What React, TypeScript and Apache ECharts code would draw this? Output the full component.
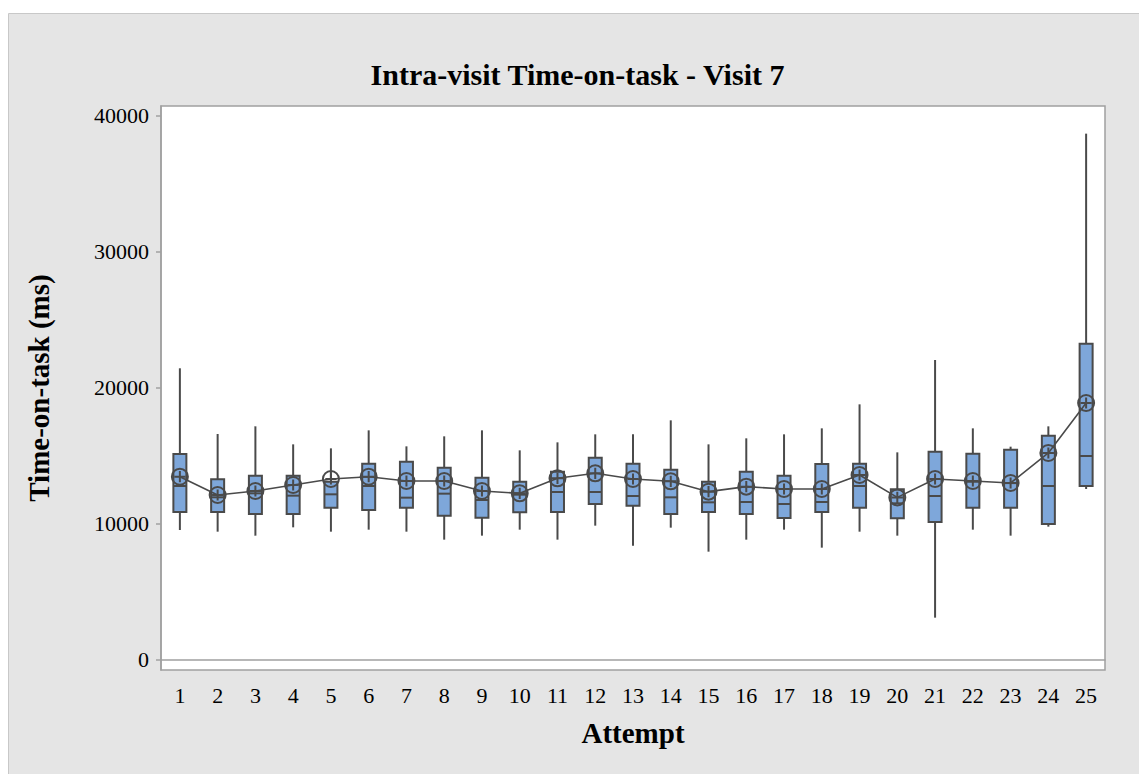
import React, { useEffect, useRef } from 'react';
import * as echarts from 'echarts';

const attempts = ['1', '2', '3', '4', '5', '6', '7', '8', '9', '10', '11', '12', '13', '14', '15', '16', '17', '18', '19', '20', '21', '22', '23', '24', '25'];
const whiskerLow = [9553, 9430, 9137, 9749, 9430, 9577, 9430, 8843, 9137, 9577, 8843, 9872, 8402, 9724, 7961, 8843, 9577, 8255, 9430, 9137, 3111, 9577, 9137, 9798, 12566];
const q1 = [10876, 10876, 10729, 10729, 11194, 11023, 11194, 10606, 10459, 10850, 10876, 11464, 11341, 10729, 10876, 10729, 10435, 10876, 11194, 10410, 10141, 11194, 11194, 9994, 12787];
const median = [12787, 11956, 12248, 12076, 12174, 12787, 11929, 12223, 11758, 12150, 12346, 12346, 12052, 11954, 11586, 11611, 11464, 11611, 12787, 11512, 12052, 13100, 13000, 12787, 14991];
const q3 = [15138, 13277, 13546, 13546, 13105, 14429, 14576, 14135, 13399, 13105, 13840, 14870, 14429, 13987, 13105, 13840, 13546, 14403, 14429, 12542, 15309, 15162, 15456, 16485, 23245];
const whiskerHigh = [21436, 16608, 17170, 15847, 15553, 16876, 15700, 16436, 16876, 15406, 15994, 16583, 16583, 17611, 15847, 16289, 16583, 17023, 18787, 15259, 22046, 17023, 15676, 17170, 38678];
const means = [13470, 12125, 12419, 12860, 13301, 13470, 13154, 13154, 12419, 12248, 13350, 13718, 13301, 13130, 12370, 12738, 12566, 12566, 13595, 11950, 13301, 13154, 13007, 15212, 18886];
const yTicks = [0, 10000, 20000, 30000, 40000];

const SERIF = "'Liberation Serif', 'Times New Roman', serif";
const DARK = '#4a4a4a';
const AXIS = '#a0a0a0';

export default function App() {
  const ref = useRef<HTMLDivElement>(null);
  useEffect(() => {
    const chart = echarts.init(ref.current!, null, { renderer: 'svg' });
    const boxData = attempts.map((_, i) => [i, whiskerLow[i], q1[i], median[i], q3[i], whiskerHigh[i]]);
    chart.setOption({
      animation: false,
      backgroundColor: 'transparent',
      graphic: [
        {
          type: 'rect',
          z: -100,
          silent: true,
          shape: { x: 0.5, y: 5.5, width: 1200, height: 800 },
          style: { fill: '#e5e5e5', stroke: '#c8c8c8', lineWidth: 1 },
        },
      ],
      title: {
        text: 'Intra-visit Time-on-task - Visit 7',
        left: 'center',
        top: 46,
        textStyle: { fontFamily: SERIF, fontWeight: 'bold', fontSize: 30, color: '#000' },
      },
      grid: {
        left: 153,
        top: 98,
        right: 42,
        bottom: 104,
        show: true,
        backgroundColor: '#ffffff',
        borderColor: AXIS,
        borderWidth: 1.5,
      },
      xAxis: {
        type: 'category',
        data: attempts,
        boundaryGap: true,
        axisLine: { lineStyle: { color: AXIS, width: 1.5 } },
        axisTick: { alignWithLabel: true, length: 5, lineStyle: { color: AXIS, width: 1.5 } },
        axisLabel: { color: '#000', fontSize: 22, fontFamily: SERIF, margin: 14, interval: 0 },
        splitLine: { show: false },
        name: 'Attempt',
        nameLocation: 'middle',
        nameGap: 48,
        nameTextStyle: { fontFamily: SERIF, fontWeight: 'bold', fontSize: 29, color: '#000' },
      },
      yAxis: {
        type: 'value',
        min: -735,
        max: 40710,
        splitLine: { show: false },
        axisLine: { show: true, lineStyle: { color: AXIS, width: 1.5 } },
        axisTick: { show: true, length: 5, customValues: yTicks, lineStyle: { color: AXIS, width: 1.5 } },
        axisLabel: {
          customValues: yTicks,
          formatter: (v: number) => String(v),
          color: '#000',
          fontSize: 22,
          fontFamily: SERIF,
          margin: 12,
        },
        name: 'Time-on-task (ms)',
        nameLocation: 'middle',
        nameGap: 108,
        nameTextStyle: { fontFamily: SERIF, fontWeight: 'bold', fontSize: 29, color: '#000' },
      },
      series: [
        {
          type: 'custom',
          data: boxData,
          encode: { x: 0, y: [1, 2, 3, 4, 5] },
          z: 2,
          renderItem: (params: any, api: any) => {
            const x = api.value(0);
            const lo = api.coord([x, api.value(1)]);
            const b1 = api.coord([x, api.value(2)]);
            const md = api.coord([x, api.value(3)]);
            const b3 = api.coord([x, api.value(4)]);
            const hi = api.coord([x, api.value(5)]);
            const w = 13;
            const cx = lo[0];
            return {
              type: 'group',
              children: [
                { type: 'line', shape: { x1: cx, y1: hi[1], x2: cx, y2: b3[1] }, style: { stroke: DARK, lineWidth: 2 } },
                { type: 'line', shape: { x1: cx, y1: b1[1], x2: cx, y2: lo[1] }, style: { stroke: DARK, lineWidth: 2 } },
                {
                  type: 'rect',
                  shape: { x: cx - w / 2, y: b3[1], width: w, height: b1[1] - b3[1] },
                  style: { fill: '#7ea7da', stroke: DARK, lineWidth: 2 },
                },
                { type: 'line', shape: { x1: cx - w / 2, y1: md[1], x2: cx + w / 2, y2: md[1] }, style: { stroke: DARK, lineWidth: 2 } },
              ],
            };
          },
        },
        {
          type: 'line',
          data: means,
          z: 5,
          symbol: 'path://M0,-10A10,10,0,1,1,0,10A10,10,0,1,1,0,-10ZM-7,0L7,0M0,-7L0,7',
          symbolSize: 16,
          showAllSymbol: true,
          itemStyle: { color: 'rgba(0,0,0,0)', borderColor: DARK, borderWidth: 2 },
          lineStyle: { color: DARK, width: 1.6 },
        },
      ],
    });
    return () => chart.dispose();
  }, []);
  return <div ref={ref} style={{ width: 1139, height: 766 }} />;
}
